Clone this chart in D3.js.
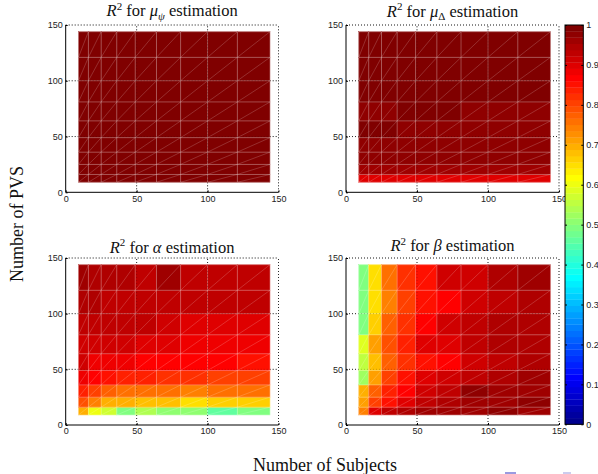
<!DOCTYPE html>
<html>
<head>
<meta charset="utf-8">
<script src="https://cdn.jsdelivr.net/npm/d3@7"></script>
<style>
  body { margin: 0; background: #fff; }
  svg { display: block; }
  .tick text { font-family: "Liberation Sans", Arial, sans-serif; font-size: 9px; fill: #222; }
</style>
</head>
<body>
<div id="chart"></div>
<script>
// grid positions (cell edges) for both axes
var subjects = [9, 16, 25, 36, 49, 64, 81, 100, 121, 144];
var pvs = [9, 16, 25, 36, 49, 64, 81, 100, 121, 144];
var axisTicks = [0, 50, 100, 150];
var cbarTicks = [0, 0.1, 0.2, 0.3, 0.4, 0.5, 0.6, 0.7, 0.8, 0.9, 1];
var cbarLabels = ["0", "0.1", "0.2", "0.3", "0.4", "0.5", "0.6", "0.7", "0.8", "0.9", "1"];

// R^2 values, one row per PVS cell (first row = PVS 9..16), one column per subjects cell
var r2MuPsi = [
    [0.99, 0.99, 0.99, 0.99, 0.99, 0.99, 0.99, 0.99, 0.99],
    [0.99, 0.99, 0.99, 0.99, 0.99, 0.99, 0.99, 0.99, 0.99],
    [0.99, 0.99, 0.99, 0.99, 0.99, 0.99, 0.99, 0.99, 0.99],
    [0.99, 0.99, 0.99, 0.99, 0.99, 0.99, 0.99, 0.99, 0.99],
    [0.99, 0.99, 0.99, 0.99, 0.99, 0.99, 0.99, 0.99, 0.99],
    [0.99, 0.99, 0.99, 0.99, 0.99, 0.99, 0.99, 0.99, 0.99],
    [0.99, 0.99, 0.99, 0.99, 0.99, 0.99, 0.99, 0.99, 0.99],
    [0.99, 0.99, 0.99, 0.99, 0.99, 0.99, 0.99, 0.99, 0.99],
    [0.99, 0.99, 0.99, 0.99, 0.99, 0.99, 0.99, 0.99, 0.99]
];
var r2MuDelta = [
    [0.905, 0.895, 0.895, 0.895, 0.895, 0.895, 0.895, 0.895, 0.895],
    [0.96, 0.96, 0.96, 0.96, 0.96, 0.96, 0.96, 0.96, 0.96],
    [0.97, 0.97, 0.97, 0.97, 0.97, 0.97, 0.97, 0.97, 0.97],
    [0.975, 0.975, 0.975, 0.975, 0.975, 0.975, 0.975, 0.975, 0.975],
    [0.985, 0.985, 0.985, 0.975, 0.975, 0.975, 0.975, 0.975, 0.975],
    [0.98, 0.98, 0.98, 0.99, 0.99, 0.99, 0.975, 0.975, 0.975],
    [0.985, 0.985, 0.985, 0.985, 0.985, 0.99, 0.99, 0.99, 0.99],
    [0.99, 0.99, 0.99, 0.99, 0.99, 0.99, 0.99, 0.99, 0.99],
    [0.99, 0.99, 0.99, 0.99, 0.99, 0.99, 0.99, 0.99, 0.99]
];
var r2Alpha = [
    [0.695, 0.6, 0.57, 0.49, 0.54, 0.51, 0.51, 0.46, 0.49],
    [0.79, 0.745, 0.7, 0.7, 0.685, 0.675, 0.65, 0.665, 0.67],
    [0.84, 0.805, 0.775, 0.76, 0.76, 0.755, 0.745, 0.76, 0.76],
    [0.885, 0.865, 0.85, 0.835, 0.835, 0.82, 0.82, 0.805, 0.805],
    [0.91, 0.885, 0.885, 0.875, 0.87, 0.865, 0.865, 0.86, 0.855],
    [0.92, 0.915, 0.915, 0.91, 0.905, 0.895, 0.885, 0.885, 0.89],
    [0.93, 0.93, 0.935, 0.925, 0.925, 0.915, 0.905, 0.905, 0.905],
    [0.945, 0.94, 0.93, 0.93, 0.93, 0.93, 0.925, 0.935, 0.93],
    [0.96, 0.945, 0.945, 0.945, 0.93, 0.96, 0.93, 0.93, 0.93]
];
var r2Beta = [
    [0.74, 0.895, 0.93, 0.945, 0.96, 0.96, 0.96, 0.975, 0.96],
    [0.71, 0.805, 0.85, 0.895, 0.93, 0.945, 0.96, 0.96, 0.975],
    [0.695, 0.77, 0.835, 0.865, 0.91, 0.93, 0.975, 0.96, 0.96],
    [0.52, 0.71, 0.805, 0.85, 0.895, 0.91, 0.93, 0.945, 0.96],
    [0.555, 0.68, 0.77, 0.82, 0.85, 0.865, 0.91, 0.93, 0.945],
    [0.585, 0.71, 0.79, 0.835, 0.895, 0.895, 0.93, 0.945, 0.945],
    [0.49, 0.665, 0.77, 0.82, 0.865, 0.91, 0.93, 0.945, 0.945],
    [0.49, 0.65, 0.74, 0.805, 0.85, 0.865, 0.91, 0.93, 0.945],
    [0.49, 0.65, 0.755, 0.82, 0.85, 0.91, 0.91, 0.945, 0.96]
];

// MATLAB jet(m)
function jetMap(m) {
    var n = Math.ceil(m / 4);
    var u = [];
    for (var k = 1; k <= n; k++) u.push(k / n);
    for (k = 1; k < n; k++) u.push(1);
    for (k = n; k >= 1; k--) u.push(k / n);
    var g0 = Math.ceil(n / 2) - (m % 4 === 1 ? 1 : 0);
    var J = d3.range(m).map(function () { return [0, 0, 0]; });
    u.forEach(function (v, j) {
        var g = g0 + j + 1, r = g + n, b = g - n;
        if (r >= 1 && r <= m) J[r - 1][0] = v;
        if (g >= 1 && g <= m) J[g - 1][1] = v;
        if (b >= 1 && b <= m) J[b - 1][2] = v;
    });
    return J.map(function (c) { return d3.rgb(c[0] * 255, c[1] * 255, c[2] * 255).formatHex(); });
}
var jet = jetMap(64);
function color(v) {
    var i = Math.floor(v * 64);
    return jet[Math.max(0, Math.min(63, i))];
}

var svg = d3.select("#chart").append("svg")
    .attr("width", 598)
    .attr("height", 474);

var panels = [
    { values: r2MuPsi, sym: "μ", sub: "ψ", subItalic: true, x0: 65.7, x1: 278.5, top: 25, bottom: 192.3, tb: 16 },
    { values: r2MuDelta, sym: "μ", sub: "Δ", subItalic: false, x0: 346, x1: 559, top: 25, bottom: 192.3, tb: 16.5 },
    { values: r2Alpha, sym: "α", sub: null, x0: 65.7, x1: 278.5, top: 258, bottom: 425, tb: 252.5 },
    { values: r2Beta, sym: "β", sub: null, x0: 346, x1: 559, top: 258, bottom: 425, tb: 251 }
];

function drawGrid(g, x, y, opacity) {
    var gg = g.append("g").attr("opacity", opacity)
        .attr("stroke", "#000").attr("stroke-width", 0.8).attr("stroke-dasharray", "1,2");
    [50, 100, 150].forEach(function (t) {
        gg.append("line").attr("x1", x(t)).attr("x2", x(t)).attr("y1", y(0)).attr("y2", y(150));
        gg.append("line").attr("x1", x(0)).attr("x2", x(150)).attr("y1", y(t)).attr("y2", y(t));
    });
}

panels.forEach(function (p) {
    var x = d3.scaleLinear().domain([0, 150]).range([p.x0, p.x1]);
    var y = d3.scaleLinear().domain([0, 150]).range([p.bottom, p.top]);
    var g = svg.append("g");

    drawGrid(g, x, y, 1);

    // cells
    var cells = [];
    p.values.forEach(function (row, i) {
        row.forEach(function (v, j) { cells.push({ i: i, j: j, v: v }); });
    });
    g.append("g").selectAll("rect").data(cells).enter().append("rect")
        .attr("x", function (d) { return x(subjects[d.j]); })
        .attr("y", function (d) { return y(pvs[d.i + 1]); })
        .attr("width", function (d) { return x(subjects[d.j + 1]) - x(subjects[d.j]); })
        .attr("height", function (d) { return y(pvs[d.i]) - y(pvs[d.i + 1]); })
        .attr("fill", function (d) { return color(d.v); })
        .attr("stroke", function (d) { return color(d.v); })
        .attr("stroke-width", 0.4);

    // faceted edges
    var edges = g.append("g").attr("stroke", "#fff").attr("stroke-opacity", 0.35).attr("stroke-width", 0.8);
    subjects.forEach(function (s) {
        edges.append("line").attr("x1", x(s)).attr("x2", x(s)).attr("y1", y(pvs[0])).attr("y2", y(pvs[pvs.length - 1]));
    });
    pvs.forEach(function (q) {
        edges.append("line").attr("y1", y(q)).attr("y2", y(q)).attr("x1", x(subjects[0])).attr("x2", x(subjects[subjects.length - 1]));
    });
    g.append("g").attr("stroke", "#fff").attr("stroke-opacity", 0.3).attr("stroke-width", 0.6)
        .selectAll("line").data(cells).enter().append("line")
        .attr("x1", function (d) { return x(subjects[d.j]); })
        .attr("y1", function (d) { return y(pvs[d.i]); })
        .attr("x2", function (d) { return x(subjects[d.j + 1]); })
        .attr("y2", function (d) { return y(pvs[d.i + 1]); });

    drawGrid(g, x, y, 0.25);

    // axes
    var ax = g.append("g").attr("transform", "translate(0," + p.bottom + ")")
        .call(d3.axisBottom(x).tickValues(axisTicks).tickSize(-2).tickPadding(3));
    var ay = g.append("g").attr("transform", "translate(" + p.x0 + ",0)")
        .call(d3.axisLeft(y).tickValues(axisTicks).tickSize(-2).tickPadding(3));
    [ax, ay].forEach(function (a) {
        a.select(".domain").remove();
        a.selectAll(".tick line").attr("stroke", "#000");
    });
    g.append("path")
        .attr("d", "M" + p.x0 + "," + p.top + "V" + p.bottom + "H" + p.x1)
        .attr("fill", "none").attr("stroke", "#000").attr("stroke-width", 1);

    // title
    var cx = (p.x0 + p.x1) / 2;
    var t = g.append("text").attr("x", cx).attr("y", p.tb)
        .attr("text-anchor", "middle")
        .attr("font-family", "'Liberation Serif', 'Times New Roman', serif")
        .attr("font-size", 16.5).attr("fill", "#111");
    t.append("tspan").attr("font-style", "italic").text("R");
    t.append("tspan").attr("font-size", 11).attr("dy", -6.5).text("2");
    t.append("tspan").attr("dy", 6.5).text(" for ");
    t.append("tspan").attr("font-style", "italic").text(p.sym);
    if (p.sub) {
        t.append("tspan").attr("font-size", 11).attr("dy", 3.5)
            .attr("font-style", p.subItalic ? "italic" : "normal").text(p.sub);
        t.append("tspan").attr("dy", -3.5).text(" estimation");
    } else {
        t.append("tspan").text(" estimation");
    }
});

// colorbar
var cb = { x0: 565, x1: 583.3, top: 25, bottom: 424.3 };
var yc = d3.scaleLinear().domain([0, 1]).range([cb.bottom, cb.top]);
var cbg = svg.append("g");
cbg.selectAll("rect").data(jet).enter().append("rect")
    .attr("x", cb.x0)
    .attr("width", cb.x1 - cb.x0)
    .attr("y", function (d, i) { return yc((i + 1) / 64); })
    .attr("height", function (d, i) { return yc(i / 64) - yc((i + 1) / 64) + 0.3; })
    .attr("fill", function (d) { return d; });
cbg.append("rect").attr("x", cb.x0).attr("y", cb.top)
    .attr("width", cb.x1 - cb.x0).attr("height", cb.bottom - cb.top)
    .attr("fill", "none").attr("stroke", "#000").attr("stroke-width", 1);
var cbAxis = cbg.append("g").attr("transform", "translate(" + cb.x1 + ",0)")
    .call(d3.axisRight(yc).tickValues(cbarTicks).tickSize(-2).tickPadding(3)
        .tickFormat(function (d, i) { return cbarLabels[i]; }));
cbAxis.select(".domain").remove();
cbAxis.selectAll(".tick line").attr("stroke", "#000");
var cbAxisL = cbg.append("g").attr("transform", "translate(" + cb.x0 + ",0)")
    .call(d3.axisLeft(yc).tickValues(cbarTicks).tickSize(-2).tickFormat(""));
cbAxisL.select(".domain").remove();
cbAxisL.selectAll(".tick line").attr("stroke", "#000");

// axis labels
svg.append("text")
    .attr("x", 325).attr("y", 470.5)
    .attr("text-anchor", "middle")
    .attr("font-family", "'Liberation Serif', 'Times New Roman', serif")
    .attr("font-size", 18).attr("fill", "#111")
    .text("Number of Subjects");
svg.append("text")
    .attr("transform", "translate(22.5,224) rotate(-90)")
    .attr("text-anchor", "middle")
    .attr("font-family", "'Liberation Serif', 'Times New Roman', serif")
    .attr("font-size", 18).attr("fill", "#111")
    .text("Number of PVS");

// small marks at the lower right edge
svg.append("rect").attr("x", 505).attr("y", 472).attr("width", 11).attr("height", 2).attr("fill", "#9a9ae0");
svg.append("rect").attr("x", 563).attr("y", 472).attr("width", 8).attr("height", 2).attr("fill", "#ccccee");
</script>
</body>
</html>
